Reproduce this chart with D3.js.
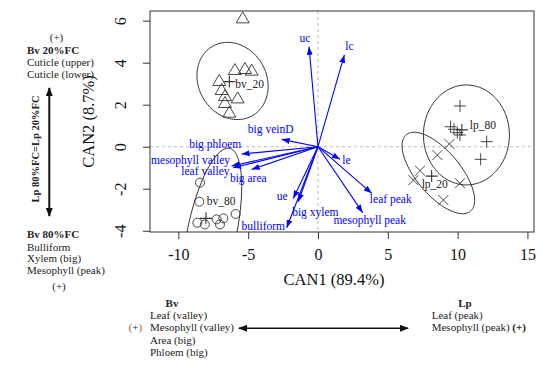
<!DOCTYPE html>
<html>
<head>
<meta charset="utf-8">
<script src="https://cdnjs.cloudflare.com/ajax/libs/d3/7.8.5/d3.min.js"></script>
<style>
  body { margin: 0; background: #fff; }
  svg text { font-family: "Liberation Serif", "Times New Roman", serif; }
</style>
</head>
<body>
<svg id="chart" width="550" height="368"></svg>
<script>
// canonical scores
const bv20 = [[-5.39, 6.11], [-5.95, 3.65], [-5.23, 3.70], [-4.75, 3.62], [-7.07, 3.13],
              [-6.90, 2.70], [-6.66, 2.41], [-5.75, 2.30], [-6.66, 2.08], [-6.35, 1.62]];
const bv80 = [[-8.45, -1.71], [-8.50, -2.62], [-8.64, -3.62], [-8.10, -3.70],
              [-7.26, -3.46], [-6.78, -3.41], [-7.02, -3.70], [-5.90, -3.20]];
const lp80 = [[10.17, 1.94], [9.50, 0.95], [9.74, 0.83], [9.98, 0.67], [10.17, 0.56],
              [12.08, 0.24], [11.65, -0.60]];
const lp20 = [[9.41, 0.13], [8.55, -0.40], [7.31, -1.14], [6.83, -1.59],
              [10.17, -1.74], [8.98, -2.54]];

const groupNames = ["bv_20", "bv_80", "lp_20", "lp_80"];
const meanX = [-6.35, -8.02, 8.14, 10.3];
const meanY = [3.10, -3.41, -1.40, 0.80];

// ellipse: centre and two conjugate semi-diameters (data units)
const ellCx = [-6.12, -7.59, 8.62, 10.63];
const ellCy = [3.13, -4.06, -1.25, 0.56];
const ellU = [[1.43, -1.65], [1.15, 3.99], [2.30, -1.82], [3.08, 0]];
const ellV = [[-2.11, -0.81], [1.79, 0], [-1.21, -0.67], [0, 2.38]];

// structure coefficients (arrow ends)
const vecNames = ["uc", "lc", "le", "leaf peak", "mesophyll peak", "big xylem", "ue",
                  "bulliform", "big area", "leaf valley", "mesophyll valley", "big phloem", "big veinD"];
const vecX = [-0.64, 1.89, 1.58, 3.85, 3.20, -1.41, -1.77, -2.24, -4.75, -6.07, -6.19, -5.47, -2.60];
const vecY = [4.76, 4.37, -0.60, -2.22, -3.14, -2.62, -2.46, -3.86, -1.08, -1.00, -0.92, -0.35, 0.35];

const xTicks = [-10, -5, 0, 5, 10, 15];
const yTicks = [-4, -2, 0, 2, 4, 6];

const svg = d3.select("#chart");
const pLeft = 150, pRight = 534, pTop = 11, pBottom = 232;

const x = d3.scaleLinear().domain([-12.03, 15.47]).range([pLeft, pRight]);
const y = d3.scaleLinear().domain([-4.06, 6.46]).range([pBottom, pTop]);

const ink = "#333";

const defs = svg.append("defs");
defs.append("clipPath").attr("id", "plotclip")
   .append("rect").attr("x", pLeft).attr("y", pTop)
   .attr("width", pRight - pLeft).attr("height", pBottom - pTop);
defs.append("marker").attr("id", "bluehead")
    .attr("markerUnits", "userSpaceOnUse")
    .attr("viewBox", "0 0 8 6").attr("markerWidth", 8).attr("markerHeight", 6)
    .attr("refX", 8).attr("refY", 3).attr("orient", "auto")
  .append("path").attr("d", "M0,0 L8,3 L0,6 Z").attr("fill", "#0000ff");
defs.append("marker").attr("id", "blackhead")
    .attr("markerUnits", "userSpaceOnUse")
    .attr("viewBox", "0 0 9 7").attr("markerWidth", 9).attr("markerHeight", 7)
    .attr("refX", 8).attr("refY", 3.5).attr("orient", "auto-start-reverse")
  .append("path").attr("d", "M0,0 L9,3.5 L0,7 Z").attr("fill", "#111");

// dashed zero lines
svg.append("line").attr("x1", x(0)).attr("x2", x(0)).attr("y1", pTop).attr("y2", pBottom)
   .attr("stroke", "#bbb").attr("stroke-dasharray", "3,3");
svg.append("line").attr("x1", pLeft).attr("x2", pRight).attr("y1", y(0)).attr("y2", y(0))
   .attr("stroke", "#bbb").attr("stroke-dasharray", "3,3");

// axes
const xAxis = svg.append("g").attr("transform", `translate(0,${pBottom})`)
   .call(d3.axisBottom(x).tickValues(xTicks).tickSize(7).tickSizeOuter(0));
xAxis.select(".domain").remove();
xAxis.selectAll("line").attr("stroke", ink);
xAxis.selectAll("text").attr("y", 28).attr("dy", 0)
     .style("font-size", "16px").attr("fill", "#111")
     .text(d => d < 0 ? "-" + Math.abs(d) : d);

const yAxis = svg.append("g").attr("transform", `translate(${pLeft},0)`)
   .call(d3.axisLeft(y).tickValues(yTicks).tickSize(7).tickSizeOuter(0));
yAxis.select(".domain").remove();
yAxis.selectAll("line").attr("stroke", ink);
yAxis.selectAll("text").remove();
yAxis.selectAll(".tick").append("text")
     .attr("transform", "translate(-24,0) rotate(-90)")
     .attr("text-anchor", "middle").attr("fill", "#111")
     .style("font-size", "16px")
     .text(d => d < 0 ? "-" + Math.abs(d) : d);

svg.append("rect").attr("x", pLeft).attr("y", pTop)
   .attr("width", pRight - pLeft).attr("height", pBottom - pTop)
   .attr("fill", "none").attr("stroke", ink).attr("stroke-width", 1);

// axis titles
svg.append("text").attr("x", 334).attr("y", 285).attr("text-anchor", "middle")
   .style("font-size", "16.5px").attr("fill", "#111").text("CAN1 (89.4%)");
svg.append("text").attr("transform", "translate(94,121.5) rotate(-90)")
   .attr("text-anchor", "middle").style("font-size", "16.5px").attr("fill", "#111")
   .text("CAN2 (8.7%)");

const plot = svg.append("g").attr("clip-path", "url(#plotclip)");

// ellipses
const ts = d3.range(0, 2 * Math.PI + 0.01, Math.PI / 60);
const ellLine = d3.line().x(d => x(d[0])).y(d => y(d[1]));
groupNames.forEach((g, i) => {
  const pts = ts.map(t => [
    ellCx[i] + ellU[i][0] * Math.cos(t) + ellV[i][0] * Math.sin(t),
    ellCy[i] + ellU[i][1] * Math.cos(t) + ellV[i][1] * Math.sin(t)
  ]);
  plot.append("path").attr("d", ellLine(pts))
      .attr("fill", "none").attr("stroke", ink).attr("stroke-width", 1);
});

// point symbols
function plusPath(h) { return `M${-h},0H${h}M0,${-h}V${h}`; }
function crossPath(h) { return `M${-h},${-h}L${h},${h}M${-h},${h}L${h},${-h}`; }
function triPath() { return "M0,-6.5L6.5,4.5L-6.5,4.5Z"; }

const sym = plot.append("g").attr("fill", "none").attr("stroke", ink).attr("stroke-width", 0.9);
sym.selectAll(".tri").data(bv20).enter().append("path")
   .attr("transform", d => `translate(${x(d[0])},${y(d[1])})`).attr("d", triPath());
sym.selectAll(".circ").data(bv80).enter().append("circle")
   .attr("cx", d => x(d[0])).attr("cy", d => y(d[1])).attr("r", 4.5);
sym.selectAll(".plus").data(lp80).enter().append("path")
   .attr("transform", d => `translate(${x(d[0])},${y(d[1])})`).attr("d", plusPath(6));
sym.selectAll(".cross").data(lp20).enter().append("path")
   .attr("transform", d => `translate(${x(d[0])},${y(d[1])})`).attr("d", crossPath(5));

// group means and labels
const labelShift = { bv_20: [6, 6.3], bv_80: [0.7, -13], lp_20: [-10, 12], lp_80: [8, -1] };
groupNames.forEach((g, i) => {
  const px = x(meanX[i]), py = y(meanY[i]);
  plot.append("path").attr("transform", `translate(${px},${py})`).attr("d", plusPath(6))
      .attr("stroke", ink).attr("stroke-width", 1.1);
  plot.append("text").attr("x", px + labelShift[g][0]).attr("y", py + labelShift[g][1])
      .style("font-size", "11.5px").attr("fill", "#222").text(g);
});

// structure vectors
const vecLabel = {
  "uc": [-4, -4.7], "lc": [5, -5], "le": [6.3, 4.7], "leaf peak": [19, 10],
  "mesophyll peak": [7, 11.3], "big xylem": [17, 14.3], "ue": [-11, 1.7],
  "bulliform": [-23.4, 2.3], "big area": [-3.4, 12.7], "leaf valley": [-27.8, 7.3],
  "mesophyll valley": [-41, -2], "big phloem": [-26.4, -6], "big veinD": [-11, -6.3]
};
const vg = svg.append("g");
vecNames.forEach((n, i) => {
  vg.append("line").attr("x1", x(0)).attr("y1", y(0))
    .attr("x2", x(vecX[i])).attr("y2", y(vecY[i]))
    .attr("stroke", "#0000ff").attr("stroke-width", 1.1)
    .attr("marker-end", "url(#bluehead)");
});
vecNames.forEach((n, i) => {
  vg.append("text").attr("x", x(vecX[i]) + vecLabel[n][0]).attr("y", y(vecY[i]) + vecLabel[n][1])
    .attr("text-anchor", "middle").style("font-size", "11.5px").attr("fill", "#0000ff").text(n);
});

// left annotation
const note = svg.append("g").attr("fill", "#222").style("font-size", "11px");
note.append("text").attr("x", 56.5).attr("y", 41).attr("text-anchor", "middle").text("(+)");
note.append("text").attr("x", 27).attr("y", 54).style("font-weight", "bold").text("Bv 20%FC");
note.append("text").attr("x", 27).attr("y", 66).text("Cuticle (upper)");
note.append("text").attr("x", 27).attr("y", 78).text("Cuticle (lower)");
note.append("text").attr("x", 27).attr("y", 238).style("font-weight", "bold").text("Bv 80%FC");
note.append("text").attr("x", 27).attr("y", 250.5).text("Bulliform");
note.append("text").attr("x", 27).attr("y", 262).text("Xylem (big)");
note.append("text").attr("x", 27).attr("y", 273.5).text("Mesophyll (peak)");
note.append("text").attr("x", 59).attr("y", 290).attr("text-anchor", "middle").text("(+)");
note.append("text").attr("transform", "translate(39,149) rotate(-90)")
    .attr("text-anchor", "middle").style("font-weight", "bold").style("font-size", "10.5px")
    .text("Lp 80%FC=Lp 20%FC");
svg.append("line").attr("x1", 49.3).attr("x2", 49.3).attr("y1", 88).attr("y2", 216)
   .attr("stroke", "#111").attr("stroke-width", 2)
   .attr("marker-start", "url(#blackhead)").attr("marker-end", "url(#blackhead)");

// bottom annotation
note.append("text").attr("x", 172).attr("y", 306.5).attr("text-anchor", "middle")
    .style("font-weight", "bold").text("Bv");
note.append("text").attr("x", 150).attr("y", 318.5).text("Leaf (valley)");
note.append("text").attr("x", 150).attr("y", 331).text("Mesophyll (valley)");
note.append("text").attr("x", 150).attr("y", 343.5).text("Area (big)");
note.append("text").attr("x", 150).attr("y", 356).text("Phloem (big)");
const plusNote = note.append("text").attr("x", 128.5).attr("y", 331);
plusNote.append("tspan").attr("fill", "#a0602a").text("(");
plusNote.append("tspan").text("+");
plusNote.append("tspan").attr("fill", "#a0602a").text(")");
note.append("text").attr("x", 465).attr("y", 306.5).attr("text-anchor", "middle")
    .style("font-weight", "bold").text("Lp");
note.append("text").attr("x", 431.7).attr("y", 318.5).text("Leaf (peak)");
const mp = note.append("text").attr("x", 431.7).attr("y", 331);
mp.append("tspan").text("Mesophyll (peak) ");
mp.append("tspan").style("font-weight", "bold").text("(+)");
svg.append("line").attr("x1", 239).attr("x2", 408).attr("y1", 328.3).attr("y2", 328.3)
   .attr("stroke", "#111").attr("stroke-width", 1.5)
   .attr("marker-start", "url(#blackhead)").attr("marker-end", "url(#blackhead)");
</script>
</body>
</html>
